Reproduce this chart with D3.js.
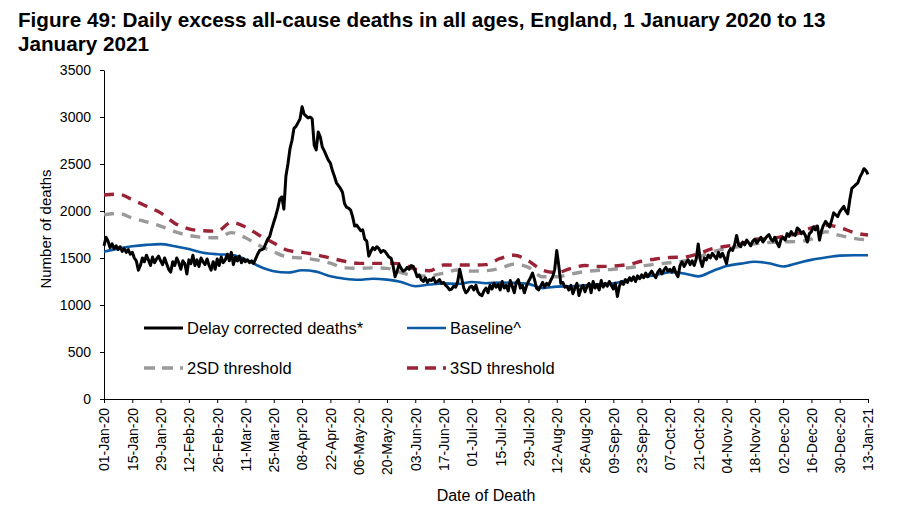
<!DOCTYPE html>
<html><head><meta charset="utf-8">
<script src="https://cdn.jsdelivr.net/npm/d3@7/dist/d3.min.js"></script>
<style>
body{margin:0;background:#fff}
svg{display:block}
text{font-family:"Liberation Sans",Arial,sans-serif;fill:#000}
</style>
</head><body>
<svg id="chart" width="913" height="525"></svg>
<script>
// ---------- DATA ----------
const titleLines = ["Figure 49: Daily excess all-cause deaths in all ages, England, 1 January 2020 to 13", "January 2021"];
const yAxisTitle = "Number of deaths";
const xAxisTitle = "Date of Death";
const startDate = "2020-01-01";
const yTicks = [0, 500, 1000, 1500, 2000, 2500, 3000, 3500];
const xTickLabels = ["01-Jan-20","15-Jan-20","29-Jan-20","12-Feb-20","26-Feb-20","11-Mar-20","25-Mar-20","08-Apr-20","22-Apr-20","06-May-20","20-May-20","03-Jun-20","17-Jun-20","01-Jul-20","15-Jul-20","29-Jul-20","12-Aug-20","26-Aug-20","09-Sep-20","23-Sep-20","07-Oct-20","21-Oct-20","04-Nov-20","18-Nov-20","02-Dec-20","16-Dec-20","30-Dec-20","13-Jan-21"];

// daily delay corrected deaths, 1 Jan 2020 .. 13 Jan 2021
const deaths = [
1630,1720,1680,1610,1650,1600,1630,1590,1620,1570,1600,1560,1590,1540,
1560,1500,1470,1370,1420,1500,1460,1530,1480,1420,1510,1450,1490,1520,
1470,1430,1500,1440,1380,1350,1460,1420,1500,1450,1380,1470,1440,1330,
1480,1440,1530,1420,1480,1410,1500,1460,1430,1490,1420,1370,1460,1380,
1490,1420,1510,1450,1480,1540,1470,1560,1430,1510,1470,1520,1450,1490,
1460,1480,1450,1470,1440,1490,1540,1580,1590,1600,1650,1700,1730,1810,
1880,1950,2030,2130,2150,2020,2370,2500,2660,2750,2880,2900,2940,2980,
3110,3030,3010,2990,3000,2980,2700,2650,2840,2790,2680,2640,2590,2540,
2510,2430,2370,2300,2270,2240,2200,2080,2040,2030,2010,1940,1840,1850,
1820,1790,1800,1700,1680,1520,1570,1610,1590,1620,1600,1560,1580,1570,
1540,1510,1500,1420,1300,1360,1430,1390,1360,1370,1400,1380,1420,1410,
1360,1300,1320,1270,1250,1290,1240,1270,1260,1290,1240,1250,1270,1230,
1240,1210,1190,1160,1170,1200,1190,1250,1380,1280,1180,1130,1150,1190,
1200,1160,1210,1140,1110,1100,1150,1180,1130,1210,1170,1230,1190,1220,
1160,1250,1180,1210,1150,1260,1200,1130,1240,1270,1180,1210,1130,1200,
1250,1290,1340,1270,1180,1160,1200,1240,1190,1230,1210,1260,1300,1380,
1580,1420,1230,1240,1190,1200,1160,1210,1120,1180,1230,1100,1170,1210,
1140,1200,1230,1130,1250,1180,1220,1160,1260,1190,1230,1200,1250,1210,
1170,1230,1090,1200,1250,1220,1270,1240,1290,1260,1300,1250,1310,1280,
1320,1290,1340,1300,1330,1360,1320,1290,1350,1380,1330,1370,1400,1360,
1380,1350,1400,1340,1300,1420,1460,1410,1450,1480,1430,1470,1420,1490,
1650,1480,1410,1500,1480,1530,1500,1550,1520,1490,1560,1510,1550,1500,
1440,1560,1600,1580,1640,1740,1640,1620,1670,1640,1690,1660,1630,1680,
1700,1660,1690,1720,1670,1700,1730,1750,1700,1680,1720,1660,1620,1700,
1720,1690,1760,1730,1780,1750,1740,1820,1800,1760,1780,1740,1670,1760,
1780,1830,1800,1840,1690,1790,1850,1890,1860,1830,1900,1980,1960,1940,
1990,2020,2050,2000,1970,2120,2240,2260,2280,2300,2360,2400,2450,2430,2390
];
// weekly values (every 7 days from 1 Jan 2020)
const baseline = [1567,1600,1625,1640,1648,1625,1595,1555,1540,1535,
1485,1410,1360,1345,1370,1355,1305,1280,1268,1280,
1270,1245,1200,1218,1230,1225,1245,1232,1240,1235,
1225,1180,1195,1200,1210,1220,1230,1265,1295,1318,
1350,1335,1305,1360,1415,1440,1460,1445,1410,1445,
1480,1505,1525,1530,1530];
const threshold2SD = [1960,1975,1925,1885,1840,1780,1740,1720,1715,1770,
1715,1630,1565,1510,1500,1480,1445,1395,1390,1395,
1390,1345,1310,1310,1340,1372,1360,1365,1390,1435,
1400,1300,1300,1330,1355,1370,1380,1395,1415,1435,
1450,1470,1510,1565,1600,1625,1650,1665,1672,1675,
1700,1780,1740,1710,1690];
const threshold3SD = [2170,2180,2120,2050,1980,1870,1810,1790,1785,1880,
1830,1740,1660,1580,1560,1535,1500,1465,1443,1443,
1443,1440,1380,1365,1425,1425,1425,1430,1495,1530,
1470,1370,1345,1390,1420,1410,1415,1430,1465,1490,
1505,1510,1545,1600,1625,1650,1700,1705,1730,1760,
1820,1850,1825,1770,1745];
const legendLabels = ["Delay corrected deaths*", "Baseline^", "2SD threshold", "3SD threshold"];

// ---------- CHART ----------
const svg = d3.select("#chart");
const parseIso = d3.utcParse("%Y-%m-%d");
const parseTick = d3.utcParse("%d-%b-%y");
const fmtTick = d3.utcFormat("%d-%b-%y");
const t0 = parseIso(startDate);
const dayOf = i => d3.utcDay.offset(t0, i);

const tickDates = xTickLabels.map(parseTick);
const x = d3.scaleUtc().domain([tickDates[0], tickDates[tickDates.length-1]]).range([104, 868]);
const y = d3.scaleLinear().domain([0, 3500]).range([399, 70]);

// title
const title = svg.append("g").attr("transform", "translate(18,0)");
const tl = titleLines.map((s, i) => title.append("text")
  .attr("x", 0).attr("y", 27 + i * 24)
  .style("font-family", "'Liberation Sans Narrow','Arial Narrow','Liberation Sans',Arial,sans-serif")
  .style("font-weight", "bold").style("font-size", "21px").text(s));
const w0 = tl[0].node().getComputedTextLength();
const sx = 808 / w0;
title.attr("transform", `translate(18,0) scale(${sx},1)`);

// axes
const yAxis = svg.append("g").attr("transform", "translate(104,0)")
  .call(d3.axisLeft(y).tickValues(yTicks).tickFormat(d3.format("d")).tickSize(4).tickSizeOuter(0).tickPadding(9));
yAxis.selectAll("text").style("font-size", "14px").attr("fill", "#000");
yAxis.selectAll("line,path").attr("stroke", "#000");

const xAxis = svg.append("g").attr("transform", "translate(0,399)")
  .call(d3.axisBottom(x).tickValues(tickDates).tickFormat(fmtTick).tickSize(4).tickSizeOuter(0));
xAxis.selectAll("line,path").attr("stroke", "#000");
xAxis.selectAll("text")
  .style("font-size", "14px").attr("fill", "#000")
  .attr("transform", "rotate(-90)")
  .attr("x", -9).attr("y", 0).attr("dy", "0.35em")
  .style("text-anchor", "end");

svg.append("text").attr("transform", "translate(51,229) rotate(-90)")
  .attr("text-anchor", "middle").style("font-size", "15px").text(yAxisTitle);
svg.append("text").attr("x", 486).attr("y", 501)
  .attr("text-anchor", "middle").style("font-size", "16px").text(xAxisTitle);

// series
const weekly = arr => arr.map((v, i) => ({d: dayOf(i * 7), v}));
const daily = arr => arr.map((v, i) => ({d: dayOf(i), v}));
const smooth = d3.line().x(p => x(p.d)).y(p => y(p.v)).curve(d3.curveMonotoneX);
const straight = d3.line().x(p => x(p.d)).y(p => y(p.v));

const styles = [
  {color: "#000000", dash: null, width: 3},
  {color: "#0a5aa5", dash: null, width: 2.6},
  {color: "#9a9a9a", dash: "10,8", width: 3.4},
  {color: "#9b2335", dash: "10,8", width: 3.4}
];

const plot = svg.append("g");
plot.append("path").datum(weekly(threshold2SD)).attr("d", smooth)
  .attr("fill", "none").attr("stroke", styles[2].color).attr("stroke-width", styles[2].width).attr("stroke-dasharray", styles[2].dash);
plot.append("path").datum(weekly(threshold3SD)).attr("d", smooth)
  .attr("fill", "none").attr("stroke", styles[3].color).attr("stroke-width", styles[3].width).attr("stroke-dasharray", styles[3].dash);
plot.append("path").datum(weekly(baseline)).attr("d", smooth)
  .attr("fill", "none").attr("stroke", styles[1].color).attr("stroke-width", styles[1].width);
plot.append("path").datum(daily(deaths)).attr("d", straight)
  .attr("fill", "none").attr("stroke", styles[0].color).attr("stroke-width", styles[0].width).attr("stroke-linejoin", "round");

// legend
const legPos = [[144, 328], [407, 328], [144, 368], [407, 368]];
legendLabels.forEach((lab, i) => {
  const [lx, ly] = legPos[i];
  const g = svg.append("g").attr("transform", `translate(${lx},${ly})`);
  g.append("line").attr("x1", 0).attr("x2", 39).attr("y1", 0).attr("y2", 0)
    .attr("stroke", styles[i].color).attr("stroke-width", styles[i].width)
    .attr("stroke-dasharray", styles[i].dash ? "11,7" : null);
  g.append("text").attr("x", 43).attr("y", 0).attr("dy", "0.36em")
    .style("font-size", "16.5px").text(lab);
});
</script>
</body></html>
